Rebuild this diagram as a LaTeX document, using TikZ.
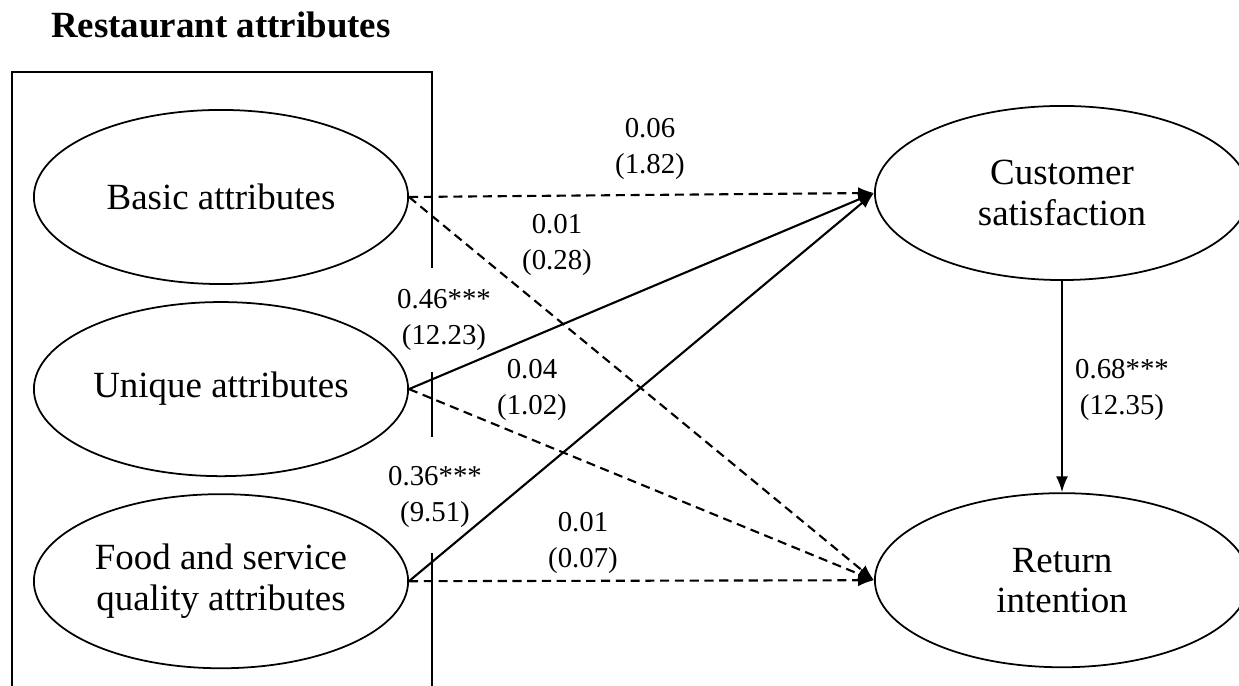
\documentclass[tikz,border=0pt]{standalone}
\usepackage{fontspec}
\setmainfont{Liberation Serif}
\usepackage{tikz}
\usetikzlibrary{positioning,shapes.geometric,arrows.meta}
\tikzstyle{attr}=[draw, ellipse, inner sep=0pt, minimum width=3.74cm, minimum height=1.74cm, line width=0.5pt, align=center, font=\fontsize{10.5}{11.4}\selectfont]
\tikzstyle{coef}=[align=center, inner sep=0pt, font=\fontsize{8.2}{10}\selectfont]
\tikzstyle{sig}=[->, line width=0.6pt]
\tikzstyle{ns}=[->, line width=0.6pt, dash pattern=on 2.6pt off 1.6pt]

\begin{document}
\begin{tikzpicture}[x=0.01cm,y=-0.01cm,>={Latex[length=4.5pt,width=3.4pt]}]
\useasboundingbox (0,0) rectangle (1239,686);

\node[font=\fontsize{10.5}{12}\selectfont\bfseries] at (221,25) (title) {Restaurant attributes};

% restaurant attributes box, open where the paths leave it
\draw[line width=0.8pt] (432,268) -- (432,72) -- (12,72) -- (12,692);
\draw[line width=0.8pt] (432,372) -- (432,437);
\draw[line width=0.8pt] (432,553) -- (432,692);

\node[attr] at (221,197) (bas) {Basic attributes};
\node[attr, below of = bas, node distance = 1.92cm] (uni) {Unique attributes};
\node[attr, below of = uni, node distance = 1.92cm] (food) {Food and service\\quality attributes};

\node[attr] at (1062,193) (cs) {Customer\\satisfaction};
\node[attr, below of = cs, node distance = 3.87cm] (ri) {Return\\intention};

\draw[ns] (bas.east) -- (cs.west);
\draw[ns] (bas.east) -- (ri.west);
\draw[sig] (uni.east) -- (cs.west);
\draw[ns] (uni.east) -- (ri.west);
\draw[sig] (food.east) -- (cs.west);
\draw[ns] (food.east) -- (ri.west);
\draw[sig] (cs.south) -- (ri.north);

\node[coef] at (650,149) (c1) {0.06\\(1.82)};
\node[coef] at (557,245) (c2) {0.01\\(0.28)};
\node[coef] at (444,320) (c3) {0.46***\\(12.23)};
\node[coef] at (532,390) (c4) {0.04\\(1.02)};
\node[coef] at (435,497) (c5) {0.36***\\(9.51)};
\node[coef] at (583,543) (c6) {0.01\\(0.07)};
\node[coef] at (1122,390) (c7) {0.68***\\(12.35)};
\end{tikzpicture}
\end{document}
